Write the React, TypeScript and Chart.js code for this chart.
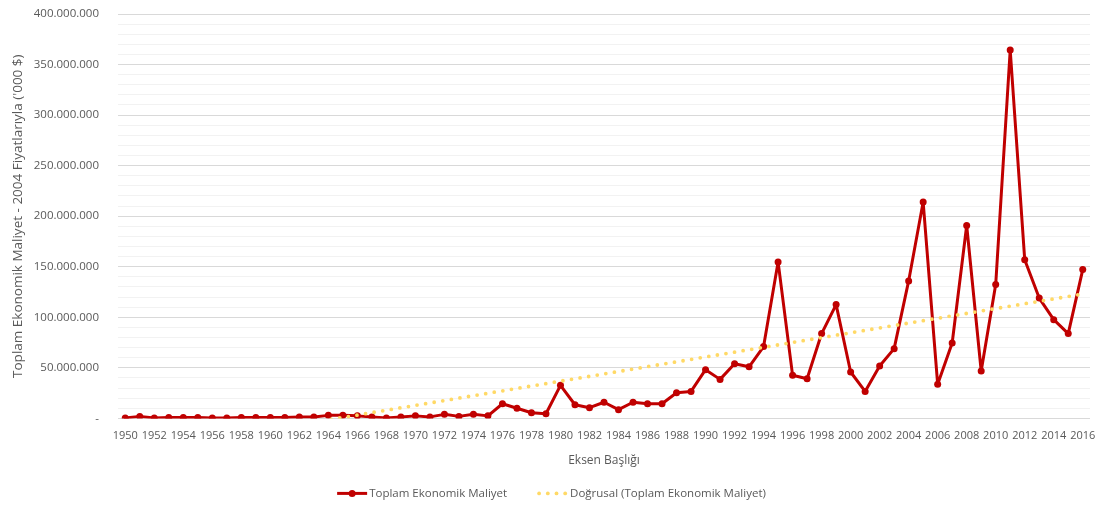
import React, { useEffect, useRef } from "react";
import { Chart, registerables } from "chart.js";

Chart.register(...registerables);

const years: string[] = [
  "1950", "1951", "1952", "1953", "1954", "1955", "1956", "1957", "1958", "1959",
  "1960", "1961", "1962", "1963", "1964", "1965", "1966", "1967", "1968", "1969",
  "1970", "1971", "1972", "1973", "1974", "1975", "1976", "1977", "1978", "1979",
  "1980", "1981", "1982", "1983", "1984", "1985", "1986", "1987", "1988", "1989",
  "1990", "1991", "1992", "1993", "1994", "1995", "1996", "1997", "1998", "1999",
  "2000", "2001", "2002", "2003", "2004", "2005", "2006", "2007", "2008", "2009",
  "2010", "2011", "2012", "2013", "2014", "2015", "2016",
];

// Toplam Ekonomik Maliyet ('000 $, 2004 prices)
const totalCost: number[] = [
  300000, 2000000, 300000, 1000000, 1000000, 1000000, 300000, 300000, 1000000, 1000000,
  1000000, 1000000, 1500000, 1500000, 3000000, 3000000, 2500000, 1500000, 500000, 1500000,
  2500000, 1500000, 4000000, 2000000, 4000000, 2500000, 14500000, 10000000, 5600000, 4600000,
  32700000, 13500000, 10600000, 16000000, 8600000, 16000000, 14500000, 14500000, 25400000, 26700000,
  48200000, 38600000, 54000000, 51000000, 71000000, 154800000, 42600000, 39300000, 83900000, 112600000,
  45900000, 26700000, 51800000, 69000000, 136000000, 214000000, 33700000, 74600000, 190800000, 46900000,
  132400000, 364400000, 157000000, 119000000, 97700000, 83900000, 147200000,
];

// Linear trend line end points
const trendYears: string[] = ["1950", "2016"];
const trendValues: number[] = [-35000000, 123000000];

const yMax = 400000000;
const yTickStep = 10000000;
const yMajorStep = 50000000;

const seriesLabel = "Toplam Ekonomik Maliyet";
const trendLabel = "Doğrusal (Toplam Ekonomik Maliyet)";
const xTitle = "Eksen Başlığı";
const yTitle = "Toplam Ekonomik Maliyet - 2004 Fiyatlarıyla ('000 $)";

const RED = "#C00000";
const GOLD = "#FFD966";
const TEXT = "#595959";
const FONT = "'Open Sans', 'Noto Sans', sans-serif";

function fmt(v: number): string {
  if (v === 0) return "-";
  return String(Math.round(v)).replace(/\B(?=(\d{3})+(?!\d))/g, ".");
}

const legendPlugin = {
  id: "excelLegend",
  afterDraw(chart: any) {
    const ctx = chart.ctx as CanvasRenderingContext2D;
    const y = chart.chartArea.bottom + 75;
    ctx.save();
    ctx.font = `11.5px ${FONT}`;
    ctx.textBaseline = "middle";
    ctx.textAlign = "left";
    const symW = 30;
    const itemGap = 30;
    const w1 = ctx.measureText(seriesLabel).width;
    const w2 = ctx.measureText(trendLabel).width;
    const total = symW + 2 + w1 + itemGap + symW + 3 + w2;
    let x = chart.width / 2 - total / 2 - 2;
    ctx.strokeStyle = RED;
    ctx.lineWidth = 3;
    ctx.beginPath();
    ctx.moveTo(x, y);
    ctx.lineTo(x + symW, y);
    ctx.stroke();
    ctx.fillStyle = RED;
    ctx.beginPath();
    ctx.arc(x + symW / 2, y, 3.5, 0, Math.PI * 2);
    ctx.fill();
    x += symW + 2;
    ctx.fillStyle = TEXT;
    ctx.fillText(seriesLabel, x, y);
    x += w1 + itemGap;
    ctx.fillStyle = GOLD;
    for (let k = 0; k < 4; k++) {
      ctx.beginPath();
      ctx.arc(x + 2 + k * 8.7, y, 1.9, 0, Math.PI * 2);
      ctx.fill();
    }
    x += symW + 3;
    ctx.fillStyle = TEXT;
    ctx.fillText(trendLabel, x, y);
    ctx.restore();
  },
};

export default function App() {
  const canvasRef = useRef<HTMLCanvasElement | null>(null);

  useEffect(() => {
    if (!canvasRef.current) return;
    const trendData = years.map((yr) => {
      const i = trendYears.indexOf(yr);
      return i >= 0 ? trendValues[i] : null;
    });
    const chart = new Chart(canvasRef.current, {
      type: "line",
      data: {
        labels: years,
        datasets: [
          {
            label: seriesLabel,
            data: totalCost,
            borderColor: RED,
            backgroundColor: RED,
            borderWidth: 3,
            borderJoinStyle: "round",
            borderCapStyle: "round",
            pointRadius: 3.5,
            pointBackgroundColor: RED,
            pointBorderColor: RED,
            pointBorderWidth: 0,
            tension: 0,
            order: 1,
          },
          {
            label: trendLabel,
            data: trendData,
            borderColor: GOLD,
            borderWidth: 3.8,
            borderDash: [0, 8.7],
            borderCapStyle: "round",
            pointRadius: 0,
            spanGaps: true,
            tension: 0,
            order: 0,
          },
        ],
      },
      options: {
        responsive: false,
        animation: false,
        devicePixelRatio: 1,
        layout: { padding: { left: 0, right: 17, top: 14, bottom: 39 } },
        plugins: {
          legend: { display: false },
          title: { display: false },
          tooltip: { enabled: false },
        },
        scales: {
          x: {
            type: "category",
            offset: true,
            grid: { display: false, drawTicks: false },
            border: { display: false },
            ticks: {
              autoSkip: false,
              maxRotation: 0,
              minRotation: 0,
              padding: 11,
              color: TEXT,
              font: { family: FONT, size: 11 },
              callback: (_v: any, i: number) => (i % 2 === 0 ? years[i] : ""),
            },
            title: {
              display: true,
              text: xTitle,
              color: TEXT,
              font: { family: FONT, size: 12 },
              padding: { top: 0, bottom: 2 },
            },
          },
          y: {
            min: 0,
            max: yMax,
            afterFit: (s: any) => {
              s.width = 118;
              s.paddingTop = 0;
              s.paddingBottom = 0;
            },
            grid: {
              drawTicks: false,
              lineWidth: 1,
              color: (c: any) =>
                c.tick && c.tick.value % yMajorStep === 0 ? "#D9D9D9" : "#F2F2F2",
            },
            border: { display: false },
            ticks: {
              stepSize: yTickStep,
              autoSkip: false,
              padding: 19,
              color: TEXT,
              font: { family: FONT, size: 11.5 },
              callback: (v: any) => (Number(v) % yMajorStep === 0 ? fmt(Number(v)) : ""),
            },
            title: {
              display: true,
              text: yTitle,
              color: TEXT,
              font: { family: FONT, size: 13.5 },
              padding: { top: 10, bottom: 0 },
            },
          },
        },
      },
      plugins: [legendPlugin],
    } as any);
    return () => chart.destroy();
  }, []);

  return (
    <div style={{ position: "absolute", left: 0, top: 0, width: 1107, height: 509, background: "#fff" }}>
      <canvas ref={canvasRef} width={1107} height={509} style={{ display: "block" }} />
    </div>
  );
}
